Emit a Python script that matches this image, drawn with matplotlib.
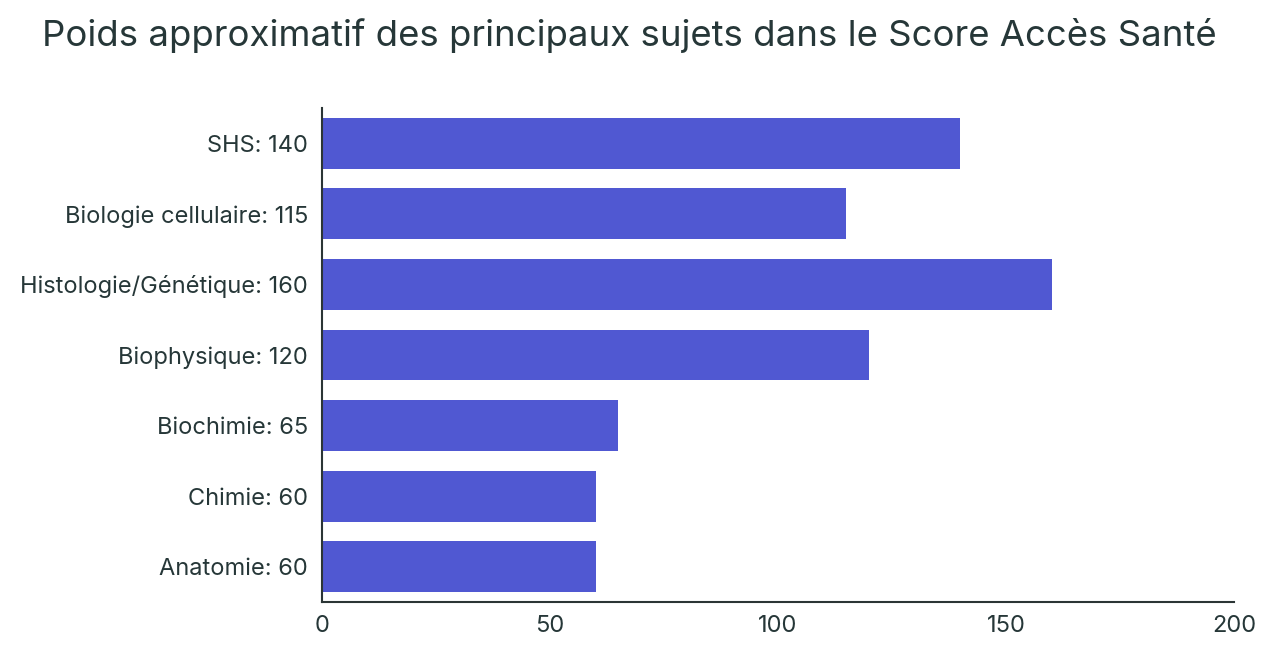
import matplotlib.pyplot as plt

plt.rcParams['font.family'] = ['Inter', 'DejaVu Sans']

sujets = ['SHS', 'Biologie cellulaire', 'Histologie/Génétique', 'Biophysique',
          'Biochimie', 'Chimie', 'Anatomie']
poids = [140, 115, 160, 120, 65, 60, 60]
xticks = [0, 50, 100, 150, 200]

labels = [f'{s}: {p}' for s, p in zip(sujets, poids)]
texte = '#263738'

fig = plt.figure(figsize=(12.74, 6.53), dpi=100)
ax = fig.add_axes([0.2527, 0.0781, 0.716, 0.7565])

ax.barh(range(len(poids)), poids, height=0.72, color='#5058d2')
ax.set_yticks(range(len(poids)))
ax.set_yticklabels(labels)
ax.set_ylim(len(poids) - 0.5, -0.5)
ax.set_xlim(0, 200)
ax.set_xticks(xticks)

for s in ['top', 'right']:
    ax.spines[s].set_visible(False)
for s in ['left', 'bottom']:
    ax.spines[s].set_color('#2b3535')
    ax.spines[s].set_linewidth(1.5)
ax.tick_params(axis='both', length=0, colors=texte, labelsize=17)
ax.tick_params(axis='y', pad=10)
ax.tick_params(axis='x', pad=9)

fig.text(0.033, 0.945, 'Poids approximatif des principaux sujets dans le Score Accès Santé',
         fontsize=26.3, color=texte, va='center', ha='left')

fig.savefig('out.png', dpi=100)
